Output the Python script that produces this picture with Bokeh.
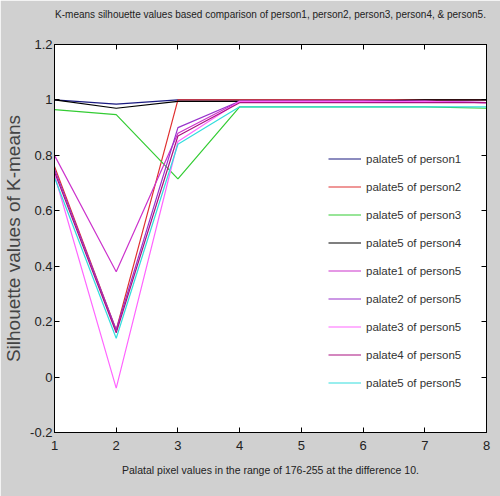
from bokeh.plotting import figure
from bokeh.models import (Range1d, LinearAxis, FixedTicker, CustomJSTickFormatter,
                          Legend, LegendItem)
from bokeh.embed import file_html
from bokeh.resources import INLINE

# Palatal pixel steps (176-255 in steps of 10)
x_vals = [1, 2, 3, 4, 5, 6, 7, 8]

# K-means silhouette values per series
palate5_person1 = [1.0, 0.985, 1.0, 1.0, 1.0, 1.0, 1.0, 1.0]
palate5_person2 = [0.76, 0.17, 1.0, 1.0, 1.0, 1.0, 1.0, 1.0]
palate5_person3 = [0.965, 0.947, 0.715, 0.975, 0.975, 0.975, 0.975, 0.97]
palate5_person4 = [1.0, 0.97, 0.995, 0.995, 0.995, 0.995, 1.0, 1.0]
palate1_person5 = [0.80, 0.38, 0.88, 0.995, 0.995, 0.995, 0.995, 0.99]
palate2_person5 = [0.75, 0.17, 0.90, 0.995, 0.995, 0.995, 0.995, 0.99]
palate3_person5 = [0.73, -0.04, 0.85, 0.995, 0.995, 0.995, 0.995, 0.99]
palate4_person5 = [0.74, 0.16, 0.87, 0.99, 0.99, 0.99, 0.99, 0.99]
palate5_person5 = [0.72, 0.14, 0.84, 0.975, 0.975, 0.975, 0.975, 0.975]

series_names = ["palate5 of person1", "palate5 of person2", "palate5 of person3",
                "palate5 of person4", "palate1 of person5", "palate2 of person5",
                "palate3 of person5", "palate4 of person5", "palate5 of person5"]
series_values = [palate5_person1, palate5_person2, palate5_person3, palate5_person4,
                 palate1_person5, palate2_person5, palate3_person5, palate4_person5,
                 palate5_person5]
series_colors = ["#1a1a80", "#e03030", "#33cc33", "#000000", "#cc33cc",
                 "#9933cc", "#ff66ff", "#aa1180", "#33dddd"]

x_ticks = [1, 2, 3, 4, 5, 6, 7, 8]
y_ticks = [-0.2, 0, 0.2, 0.4, 0.6, 0.8, 1.0, 1.2]

BG = "#d0d0d0"
SANS = "Liberation Sans"

p = figure(width=500, height=496, output_backend="svg", toolbar_location=None,
           x_range=Range1d(1, 8), y_range=Range1d(-0.2, 1.2),
           min_border_left=52, min_border_right=14, min_border_top=44,
           min_border_bottom=64)
p.background_fill_color = "white"
p.border_fill_color = BG
p.outline_line_color = "black"
p.grid.visible = False

p.title.text = ("K-means silhouette values based comparison of person1, person2, "
                "person3, person4, & person5.")
p.title.align = "center"
p.title.text_font = SANS
p.title.text_font_size = "10px"
p.title.text_font_style = "normal"
p.title.text_color = "#222222"
p.title.offset = 14

fmt = CustomJSTickFormatter(code="return tick.toFixed(1).replace(/\\.0$/, '');")
blank = CustomJSTickFormatter(code="return '';")

for ax in p.xaxis:
    ax.ticker = FixedTicker(ticks=x_ticks)
    ax.formatter = fmt
    ax.axis_label = "Palatal pixel values in the range of 176-255 at the difference 10."
    ax.axis_label_text_font = SANS
    ax.axis_label_text_font_size = "10.5px"
    ax.axis_label_text_font_style = "normal"
    ax.axis_label_text_color = "#222222"
    ax.axis_label_standoff = 11
    ax.major_label_text_font = SANS
    ax.major_label_text_font_size = "13px"
    ax.major_label_text_color = "#222222"
    ax.major_label_standoff = 8

for ax in p.yaxis:
    ax.ticker = FixedTicker(ticks=y_ticks)
    ax.formatter = fmt
    ax.axis_label = "Silhouette values of K-means"
    ax.axis_label_text_font = SANS
    ax.axis_label_text_font_size = "19px"
    ax.axis_label_text_font_style = "normal"
    ax.axis_label_text_color = "#444444"
    ax.axis_label_standoff = 3
    ax.major_label_text_font = SANS
    ax.major_label_text_font_size = "13px"
    ax.major_label_text_color = "#222222"
    ax.major_label_standoff = 2

for ax in list(p.xaxis) + list(p.yaxis):
    ax.major_tick_in = 5
    ax.major_tick_out = 0
    ax.minor_tick_line_color = None
    ax.axis_line_color = "black"
    ax.major_tick_line_color = "black"

# Mirror ticks on the top and right edges; the top axis keeps a blank
# label so the title sits higher in the margin
top_axis = LinearAxis(ticker=FixedTicker(ticks=x_ticks), formatter=blank,
                      major_tick_in=5, major_tick_out=0, minor_tick_line_color=None,
                      major_label_text_font_size="1px",
                      axis_label="\u00a0", axis_label_text_font_size="15px",
                      axis_label_standoff=0)
right_axis = LinearAxis(ticker=FixedTicker(ticks=y_ticks), formatter=blank,
                        major_tick_in=5, major_tick_out=0, minor_tick_line_color=None,
                        major_label_text_font_size="1px")
p.add_layout(top_axis, "above")
p.add_layout(right_axis, "right")

items = []
for name, vals, col in zip(series_names, series_values, series_colors):
    r = p.line(x_vals, vals, line_color=col, line_width=1.2)
    items.append(LegendItem(label=name, renderers=[r]))

legend = Legend(items=items, location=(274, 42), spacing=13,
                label_text_font=SANS, label_text_font_size="11.5px",
                label_text_color="#333333", glyph_width=33, glyph_height=15,
                label_height=15, label_standoff=5, padding=6,
                border_line_color=None, background_fill_alpha=0.0)
p.add_layout(legend)

open("out.html", "w").write(file_html(p, INLINE))
